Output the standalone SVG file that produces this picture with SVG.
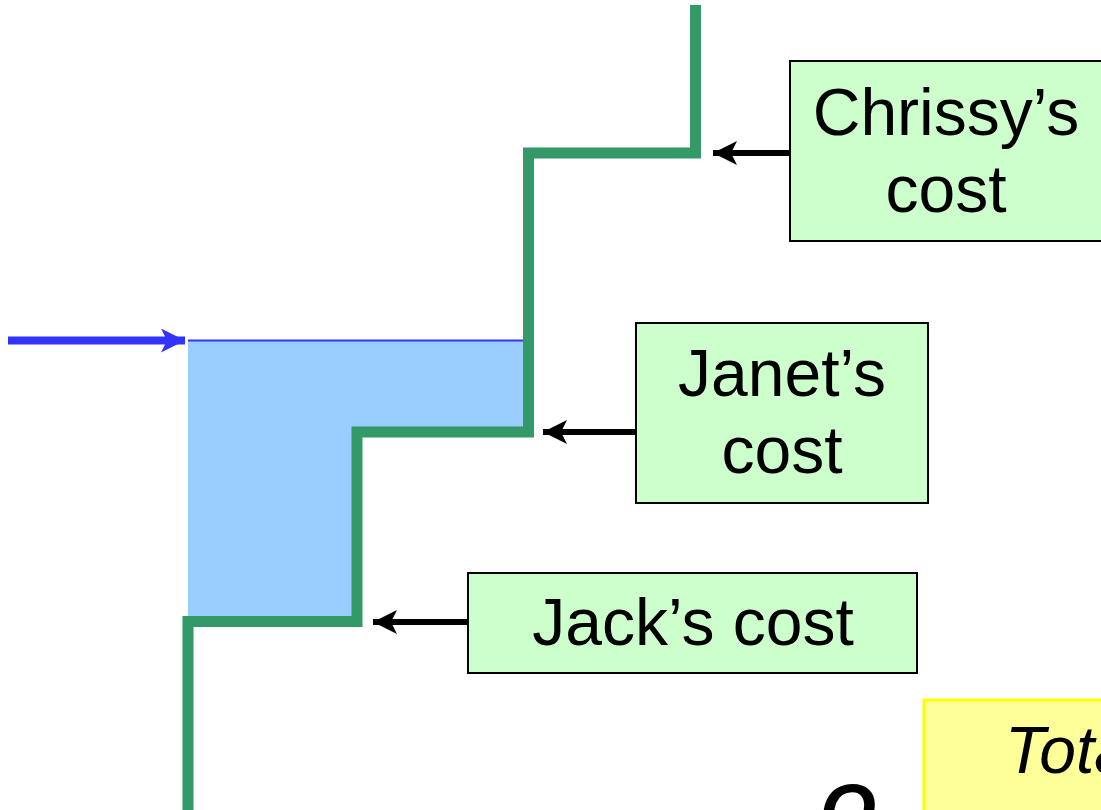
<svg xmlns="http://www.w3.org/2000/svg" width="1101" height="810" viewBox="0 0 1101 810">
<style>
.box{fill:#CCFFCC;stroke:#000;stroke-width:2}
.lbl{font-family:"Liberation Sans",Arial,sans-serif;font-size:66px;fill:#000;text-anchor:middle}
.conn{stroke:#000;stroke-width:6;fill:none}
</style>
<defs>
<marker id="ah" markerUnits="userSpaceOnUse" markerWidth="26" markerHeight="24" refX="24" refY="12" orient="auto">
<path d="M0,0 L24,12 L0,24 L6,12 Z" fill="#000"/>
</marker>
<marker id="ahb" markerUnits="userSpaceOnUse" markerWidth="26" markerHeight="24" refX="24" refY="12" orient="auto">
<path d="M0,0 L24,12 L0,24 L6,12 Z" fill="#3333FF"/>
</marker>
</defs>
<g id="area">
<path d="M188,341 H528.5 V432 H357 V621.5 H188 Z" fill="#99CCFF"/>
<line x1="188" y1="340.5" x2="524" y2="340.5" stroke="#3333FF" stroke-width="2"/>
</g>
<g id="supply-curve">
<path d="M188,810 V621.5 H357 V432 H528.5 V153 H695.5 V5" fill="none" stroke="#339966" stroke-width="11" stroke-linejoin="miter"/>
</g>
<g id="connectors">
<line x1="8" y1="340.5" x2="185" y2="340.5" stroke="#3333FF" stroke-width="8" marker-end="url(#ahb)"/>
<line class="conn" x1="790" y1="153" x2="713" y2="153" marker-end="url(#ah)"/>
<line class="conn" x1="636" y1="432" x2="543" y2="432" marker-end="url(#ah)"/>
<line class="conn" x1="468" y1="622" x2="373" y2="622" marker-end="url(#ah)"/>
</g>
<g id="chrissy">
<rect class="box" x="790" y="61" width="330" height="180"/>
<text class="lbl" x="946" y="135">Chrissy’s</text>
<text class="lbl" x="946" y="212">cost</text>
</g>
<g id="janet">
<rect class="box" x="636" y="323" width="292" height="180"/>
<text class="lbl" x="782" y="396">Janet’s</text>
<text class="lbl" x="782" y="473">cost</text>
</g>
<g id="jack">
<rect class="box" x="468" y="573" width="449" height="100"/>
<text class="lbl" x="693" y="645">Jack’s cost</text>
</g>
<g id="total">
<rect x="924" y="700" width="200" height="130" fill="#FFFF99" stroke="#FFFF00" stroke-width="3"/>
<text x="1005" y="773" font-family="'Liberation Sans',Arial,sans-serif" font-size="66" font-style="italic">Tota</text>
</g>
<g id="q-label">
<text x="820" y="835" font-family="'Liberation Sans',Arial,sans-serif" font-size="72" font-weight="bold" font-style="italic">Q</text>
</g>
</svg>
